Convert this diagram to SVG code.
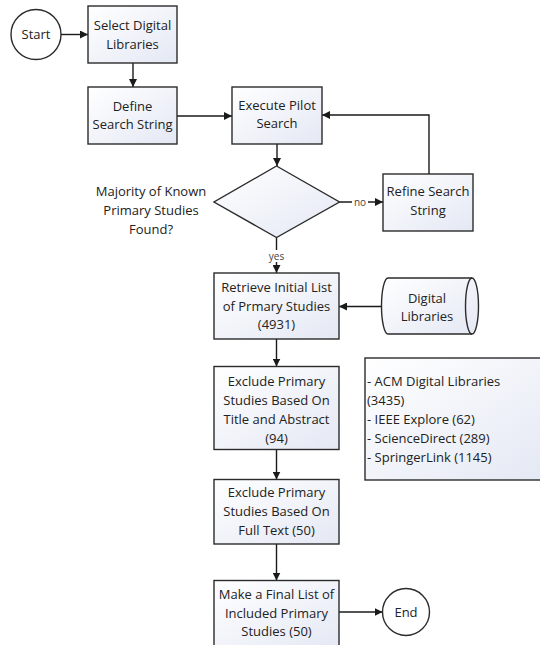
<svg xmlns="http://www.w3.org/2000/svg" width="540" height="645" viewBox="0 0 540 645">
<defs>
<linearGradient id="g" x1="0" y1="0" x2="1" y2="1">
<stop offset="0" stop-color="#ffffff"/>
<stop offset="1" stop-color="#e4e8f4"/>
</linearGradient>
<marker id="ah" markerUnits="userSpaceOnUse" markerWidth="9" markerHeight="8" refX="8" refY="4" orient="auto">
<path d="M0,0 L8,4 L0,8 Z" fill="#1a1a1a"/>
</marker>
<style>
.box{fill:url(#g);stroke:#2b2b2b;stroke-width:1.4}
.circ{fill:#ffffff;stroke:#2b2b2b;stroke-width:1.4}
.t{font-family:"Open Sans","Liberation Sans",sans-serif;font-size:13px;fill:#222;text-anchor:middle}
.tl{font-family:"Open Sans","Liberation Sans",sans-serif;font-size:13px;fill:#222;text-anchor:start}
.s{font-family:"Open Sans","Liberation Sans",sans-serif;font-size:10px;fill:#444;text-anchor:middle}
.c{fill:none;stroke:#1a1a1a;stroke-width:1.4;marker-end:url(#ah)}
</style>
</defs>
<rect width="540" height="645" fill="#ffffff"/>

<g id="connectors">
<path class="c" d="M61,34.5 H88"/>
<path class="c" d="M133,63 V87"/>
<path class="c" d="M177,116 H232"/>
<path class="c" d="M277,144 V166"/>
<path class="c" d="M339.5,202 H383"/>
<path class="c" d="M429,174 V115 H322"/>
<path class="c" d="M276.5,237.5 V273"/>
<path class="c" d="M382,306.5 H339"/>
<path class="c" d="M276.5,339 V366.5"/>
<path class="c" d="M276.5,449.5 V479.5"/>
<path class="c" d="M276.5,544 V580.5"/>
<path class="c" d="M339,612 H382.5"/>
<rect x="352" y="196" width="16" height="12" fill="#ffffff"/>
<text class="s" x="360" y="205.5">no</text>
<rect x="267" y="250" width="19" height="12" fill="#ffffff"/>
<text class="s" x="276.5" y="259.5">yes</text>
</g>

<g id="start">
<circle class="circ" cx="36" cy="34.5" r="25"/>
<text class="t" x="36" y="39">Start</text>
</g>

<g id="select">
<rect class="box" x="88" y="6" width="89" height="57"/>
<text class="t" x="132.5" y="29.5">Select Digital</text>
<text class="t" x="132.5" y="48.5">Libraries</text>
</g>

<g id="define">
<rect class="box" x="88" y="87" width="89" height="57"/>
<text class="t" x="132.5" y="110.5">Define</text>
<text class="t" x="132.5" y="129">Search String</text>
</g>

<g id="execute">
<rect class="box" x="232" y="87" width="90" height="57"/>
<text class="t" x="277" y="109.5">Execute Pilot</text>
<text class="t" x="277" y="128">Search</text>
</g>

<g id="decision">
<path class="box" d="M276.5,166 L339.5,202 L276.5,237.5 L214,202 Z"/>
<text class="t" x="151" y="196">Majority of Known</text>
<text class="t" x="151" y="215">Primary Studies</text>
<text class="t" x="151" y="234">Found?</text>
</g>

<g id="refine">
<rect class="box" x="383" y="174" width="90" height="57"/>
<text class="t" x="428" y="196">Refine Search</text>
<text class="t" x="428" y="215">String</text>
</g>

<g id="retrieve">
<rect class="box" x="214" y="273" width="125" height="66"/>
<text class="t" x="276.5" y="292">Retrieve Initial List</text>
<text class="t" x="276.5" y="310.5">of Prmary Studies</text>
<text class="t" x="276.5" y="329">(4931)</text>
</g>

<g id="digital-libraries">
<path class="box" d="M388,278 H472 A6.5,28 0 0 1 472,334 H388 A6.5,28 0 0 1 388,278 Z"/>
<path d="M472,278 A6.5,28 0 0 0 472,334" fill="none" stroke="#2b2b2b" stroke-width="1.4"/>
<text class="t" x="427" y="302.5">Digital</text>
<text class="t" x="427" y="321">Libraries</text>
</g>

<g id="sources">
<rect class="box" x="365" y="358" width="185" height="122"/>
<text class="tl" x="367" y="386">- ACM Digital Libraries</text>
<text class="tl" x="367" y="405">(3435)</text>
<text class="tl" x="367" y="424">- IEEE Explore (62)</text>
<text class="tl" x="367" y="443">- ScienceDirect (289)</text>
<text class="tl" x="367" y="461.5">- SpringerLink (1145)</text>
</g>

<g id="exclude-title">
<rect class="box" x="214" y="366.5" width="125" height="83"/>
<text class="t" x="276.5" y="386">Exclude Primary</text>
<text class="t" x="276.5" y="405">Studies Based On</text>
<text class="t" x="276.5" y="424">Title and Abstract</text>
<text class="t" x="276.5" y="443">(94)</text>
</g>

<g id="exclude-full">
<rect class="box" x="214" y="479.5" width="125" height="64.5"/>
<text class="t" x="276.5" y="497">Exclude Primary</text>
<text class="t" x="276.5" y="516">Studies Based On</text>
<text class="t" x="276.5" y="534.5">Full Text (50)</text>
</g>

<g id="final">
<rect class="box" x="214" y="580.5" width="125" height="70"/>
<text class="t" x="276.5" y="598.5">Make a Final List of</text>
<text class="t" x="276.5" y="617.5">Included Primary</text>
<text class="t" x="276.5" y="636">Studies (50)</text>
</g>

<g id="end">
<circle class="circ" cx="406" cy="612" r="23.5"/>
<text class="t" x="406" y="616.5">End</text>
</g>
</svg>
